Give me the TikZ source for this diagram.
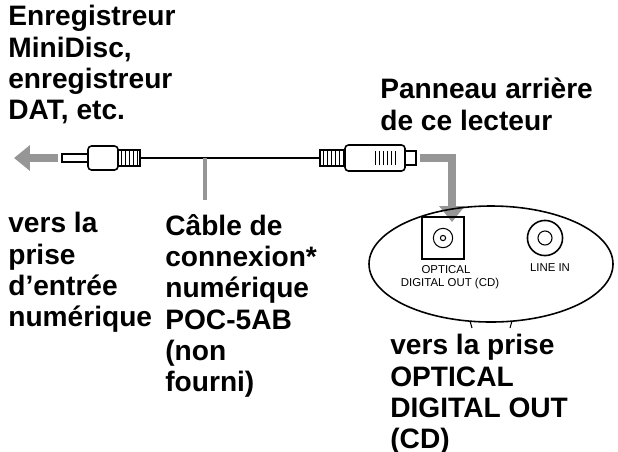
\documentclass[tikz,border=0pt]{standalone}
\usepackage{fontspec}
\setmainfont{Liberation Sans}
\usetikzlibrary{arrows.meta}
\definecolor{arrowGray}{RGB}{150,150,150}
\tikzset{
  label/.style={anchor=north west, align=left, inner sep=0pt, font=\fontsize{16}{17.8}\selectfont\bfseries},
  tiny/.style={inner sep=0pt, font=\fontsize{6.5}{7}\selectfont},
  plug/.style={draw, line width=0.9pt, fill=white},
  bigarrow/.style={arrowGray, line width=5pt, -{Triangle[length=9pt,width=14pt]}}
}
\begin{document}
\begin{tikzpicture}[x=0.02cm,y=-0.02cm]
\useasboundingbox (0,0) rectangle (618,451);
% Texts
\node[label] (rec) at (8,5) {Enregistreur\\MiniDisc,\\enregistreur\\DAT, etc.};
\node[label] (rear) at (380,78) {Panneau arri\`ere\\de ce lecteur};
\node[label] (in) at (8,212) {vers la\\prise\\d'entr\'ee\\num\'erique};
\node[label] (cab) at (165,214) {C\^able de\\connexion*\\num\'erique\\POC-5AB\\(non\\fourni)};
\node[label] (out) at (390,334) {vers la prise\\OPTICAL\\DIGITAL OUT\\(CD)};
% Arrow to the recorder
\draw[bigarrow] (58,158) -- (14,158);
% Cable
\draw[line width=1.6pt] (140,158) -- (320,158);
\coordinate (tap) at (205,158);
\coordinate (tapend) at (205,200);
\draw[arrowGray, line width=2.5pt] (tap) -- (tapend);
% Mini plug (left)
\draw[plug] (62,154) rectangle (88,162);
\draw[plug, rounded corners=2pt] (88,146) rectangle (118,170);
\draw[plug] (118,150) rectangle (140,166);
\foreach \i in {121,125,...,137} \draw (\i,151) -- (\i,165);
% Optical plug (right)
\draw[plug] (320,150) rectangle (345,166);
\foreach \i in {323,327,...,343} \draw (\i,151) -- (\i,165);
\draw[plug, rounded corners=2pt] (345,145) rectangle (405,171);
\foreach \i in {375,379,...,395} \draw (\i,151) -- (\i,165);
\draw[plug] (405,151) rectangle (416,165);
% Arrow into the jack
\draw[bigarrow] (420,158) -- (452,158) -- (452,222);
% Rear panel
\draw[line width=0.9pt] (491,264) ellipse (122 and 58);
\draw[line width=0.6pt] (470,321) -- (472,328) (512,321) -- (510,328);
\node[draw, line width=0.9pt, minimum size=24pt, inner sep=0pt] (opt) at (443,238) {};
\draw[line width=0.6pt] (opt.center) circle (5.5pt);
\draw[line width=0.6pt] (opt.center) circle (1.5pt);
\node[draw, circle, line width=0.9pt, minimum size=20pt] (line) at (545,238) {};
\draw[line width=0.6pt] (line.center) circle (4pt);
\node[tiny] (optlab) at (446,270) {OPTICAL};
\node[tiny] (diglab) at (450,284) {DIGITAL OUT (CD)};
\node[tiny] (linelab) at (550,268) {LINE IN};
\end{tikzpicture}
\end{document}
